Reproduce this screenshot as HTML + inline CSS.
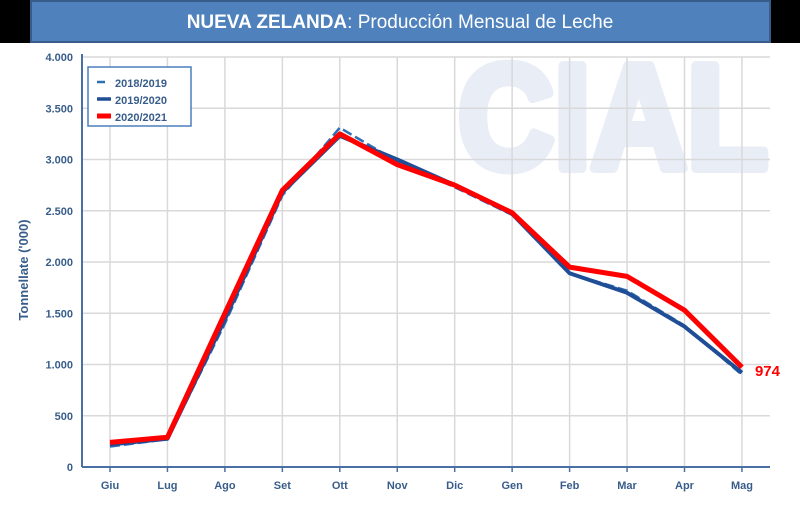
<!DOCTYPE html>
<html><head><meta charset="utf-8"><style>
body{margin:0;background:#fff;width:800px;height:501px;overflow:hidden;font-family:"Liberation Sans",sans-serif}
</style></head><body>
<svg width="800" height="501" id="chart">
<rect x="0" y="0" width="800" height="43" fill="#000"/>
<rect x="31" y="1" width="739" height="41" fill="#4f81bd" stroke="#385d8a" stroke-width="2"/>
<text x="400" y="28" text-anchor="middle" fill="#fff" font-size="19"><tspan font-weight="bold">NUEVA ZELANDA</tspan>: Producción Mensual de Leche</text>
<text x="458" y="168" fill="#e8edf6" font-size="148" font-weight="bold" textLength="310" lengthAdjust="spacingAndGlyphs" stroke="#e8edf6" stroke-width="10" stroke-linejoin="round">CIAL</text>
<g id="grid"></g><g id="axes"></g><g id="series"></g>
<text x="20" y="262" transform="rotate(-90 28 262)" text-anchor="middle" fill="#385d8a" font-size="13" font-weight="bold">Tonnellate ('000)</text>
<g>
<rect x="88" y="67" width="103" height="59" fill="#fff" stroke="#4a7ebb" stroke-width="1.5"/>
<line x1="97" y1="82" x2="105" y2="82" stroke="#2e6eb5" stroke-width="2.5"/>
<text x="115" y="87" font-size="11" font-weight="bold" fill="#385d8a">2018/2019</text>
<line x1="97" y1="99" x2="111" y2="99" stroke="#1f4e96" stroke-width="3.5"/>
<text x="115" y="104" font-size="11" font-weight="bold" fill="#385d8a">2019/2020</text>
<line x1="97" y1="116" x2="111" y2="116" stroke="#f00" stroke-width="5"/>
<text x="115" y="121" font-size="11" font-weight="bold" fill="#385d8a">2020/2021</text>
</g>
</svg>
<script>
const months=["Giu","Lug","Ago","Set","Ott","Nov","Dic","Gen","Feb","Mar","Apr","Mag"];
const s2018=[200,270,1400,2650,3310,2980,2730,2460,1890,1720,1380,900];
const s2019=[220,275,1440,2680,3230,3000,2750,2470,1890,1700,1370,920];
const s2020=[240,290,1500,2700,3250,2950,2750,2480,1950,1860,1530,974];
const yTicks=[0,500,1000,1500,2000,2500,3000,3500,4000];
const yLabels=["0","500","1.000","1.500","2.000","2.500","3.000","3.500","4.000"];
const lastLabel="974";
const NS="http://www.w3.org/2000/svg";
const X0=110,DX=57.45,Y0=467,YMAX=57,L=82,R=770;
const x=i=>X0+i*DX;
const y=v=>Y0-(v/4000)*(Y0-YMAX);
function mk(t,a,p){const e=document.createElementNS(NS,t);for(const k in a)e.setAttribute(k,a[k]);p.appendChild(e);return e;}
const grid=document.getElementById('grid'),axes=document.getElementById('axes'),ser=document.getElementById('series');
yTicks.forEach((v,i)=>{
 if(v>0){const g=mk('line',{x1:L,x2:R,y1:y(v),y2:y(v),stroke:'#d9d9d9','stroke-width':1.5},grid);
 
 }
 const t=mk('text',{x:73,y:y(v)+4,'text-anchor':'end','font-size':11,'font-weight':'bold',fill:'#385d8a'},axes);
 t.textContent=yLabels[i];
 
 
});
months.forEach((m,i)=>{
 const g=mk('line',{x1:x(i),x2:x(i),y1:YMAX,y2:Y0,stroke:'#d9d9d9','stroke-width':1.5},grid);
 
 
 const tk=mk('line',{x1:x(i),x2:x(i),y1:Y0,y2:Y0+5,stroke:'#4a6fa5','stroke-width':1.5},axes);
 
 
 const t=mk('text',{x:x(i),y:489,'text-anchor':'middle','font-size':11,'font-weight':'bold',fill:'#385d8a'},axes);
 t.textContent=m;
 
 
});
const ya=mk('line',{x1:L,x2:L,y1:YMAX-3,y2:Y0,stroke:'#4a6fa5','stroke-width':2},axes);


const xa=mk('line',{x1:L,x2:R,y1:Y0,y2:Y0,stroke:'#4a6fa5','stroke-width':2},axes);


const pts=a=>a.map((v,i)=>x(i)+','+y(v)).join(' ');
const p1=mk('polyline',{points:pts(s2018),fill:'none',stroke:'#2e6eb5','stroke-width':2.5,'stroke-dasharray':'10,4'},ser);


const p2=mk('polyline',{points:pts(s2019),fill:'none',stroke:'#1f4e96','stroke-width':4,'stroke-linejoin':'round'},ser);


const p3=mk('polyline',{points:pts(s2020),fill:'none',stroke:'#ff0000','stroke-width':5,'stroke-linejoin':'round'},ser);


const lv=mk('text',{x:x(11)+13,y:y(s2020[11])+9,'font-size':15,'font-weight':'bold',fill:'#f00'},ser);
lv.textContent=lastLabel;


</script>
</body></html>
